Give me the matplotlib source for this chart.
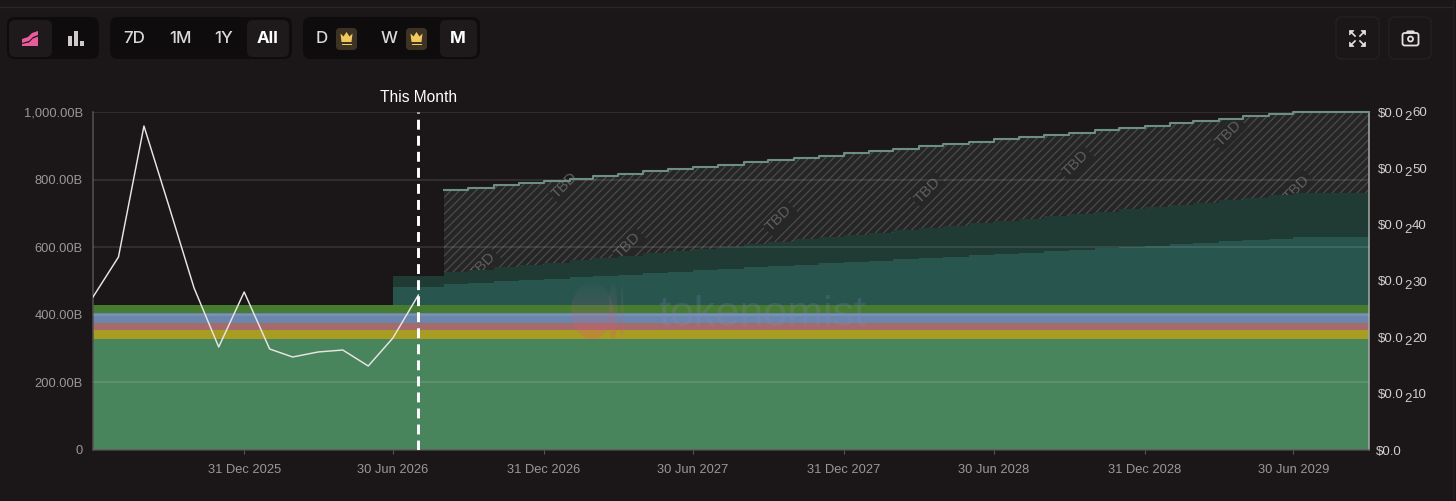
import numpy as np
import pandas as pd
import matplotlib
matplotlib.use("Agg")
import matplotlib.pyplot as plt
import matplotlib.dates as mdates
from matplotlib.patches import FancyBboxPatch, Ellipse, Polygon, Rectangle

plt.rcParams['font.family'] = ['Liberation Sans', 'DejaVu Sans']
plt.rcParams['hatch.linewidth'] = 0.9

# ---- data ----
months = pd.date_range('2025-06-30', periods=52, freq='ME')
base_layer = [328] * 52
yellow_layer = [27] * 52
red_layer = [21] * 52
blue_layer = [29] * 52
green_layer = [24] * 52

# cumulative upper edges of unlocking layers, from Jun 2026 on
teal_top = [482, 482, 491, 495, 499, 503, 507, 511, 515, 519, 524, 528, 532, 536, 540, 544, 548, 552, 556, 560,
            564, 568, 572, 576, 580, 584, 589, 593, 597, 601, 605, 609, 613, 617, 621, 625, 629, 629, 629, 629]
dark_top = [515, 515, 527, 534, 541, 548, 554, 561, 568, 575, 582, 589, 595, 602, 609, 616, 623, 630, 637, 643,
            650, 657, 664, 671, 678, 684, 691, 698, 705, 712, 719, 726, 732, 739, 746, 753, 760, 760, 760, 760]
# TBD allocation upper edge, from Aug 2026 on
tbd_top = [769, 776, 783, 790, 797, 803, 810, 817, 824, 830, 837, 844, 851, 858, 864, 871, 878, 885, 892,
           898, 905, 912, 919, 926, 932, 939, 946, 953, 960, 966, 973, 980, 987, 994, 1000, 1000, 1000, 1000]

price = [0.002716, 0.003426, 0.005751, 0.004349, 0.002876, 0.001828, 0.002805,
         0.001793, 0.001651, 0.001740, 0.001775, 0.001491, 0.001988, 0.002751]

left_ticks = [0, 200, 400, 600, 800, 1000]
left_labels = ['0', '200.00B', '400.00B', '600.00B', '800.00B', '1,000.00B']
right_ticks = [0, 0.001, 0.002, 0.003, 0.004, 0.005, 0.006]
right_digits = ['', '10', '20', '30', '40', '50', '60']
date_ticks = ['2025-12-31', '2026-06-30', '2026-12-31', '2027-06-30',
              '2027-12-31', '2028-06-30', '2028-12-31', '2029-06-30']
this_month = '2026-07-31'
range_buttons = ['7D', '1M', '1Y', 'All']

# ---- style ----
W, H = 1456, 501
BG = '#1b1718'
TICK = '#9c9698'
fig = plt.figure(figsize=(W / 100, H / 100), dpi=100, facecolor=BG)
ax = fig.add_axes([93 / W, 1 - 450 / H, (1369 - 93) / W, (450 - 112) / H], facecolor=BG)

cum = np.cumsum([base_layer, yellow_layer, red_layer, blue_layer, green_layer], axis=0)
layer_colors = ['#49855c', '#a89c22', '#a56b6b', '#6a86ac', '#477b2f']
bottom = np.zeros(52)
for top, c in zip(cum, layer_colors):
    ax.fill_between(months, bottom, top, step='post', color=c, lw=0, zorder=2)
    bottom = top

m2 = months[12:]
ax.fill_between(m2, cum[-1][12:], teal_top, step='post', color='#28564f', lw=0, zorder=2)
ax.fill_between(m2, teal_top, dark_top, step='post', color='#1f3b34', lw=0, zorder=2)

m3 = months[14:]
tbd_poly = ax.fill_between(m3, dark_top[2:], tbd_top, step='post', facecolor='#262626',
                           edgecolor='#4a4c4b', hatch='////', lw=0, zorder=1)
ax.step(m3[:], tbd_top, where='post', color='#6d8f7f', lw=1.5, zorder=3, clip_on=False)

# TBD marks, clipped to the hatched region
for px, py in [(483, 265), (565, 185), (628, 245), (779, 218),
               (928, 190), (1076, 163), (1229, 133), (1297, 188)]:
    t = ax.text(px / W, 1 - py / H, 'TBD', transform=fig.transFigure, rotation=45,
                ha='center', va='center', rotation_mode='anchor', fontsize=11, color='#5e5f5e', zorder=1.5,
                clip_on=True, bbox=dict(facecolor='#262626', edgecolor='none', pad=1.5))
    t.set_clip_path(tbd_poly.get_paths()[0], ax.transData)

ax.set_xlim(months[0], months[-1])
ax.set_ylim(0, 1000)
ax.set_yticks(left_ticks)
ax.set_yticklabels(left_labels)
ax.set_xticks(pd.to_datetime(date_ticks))
ax.set_xticklabels([pd.Timestamp(d).strftime('%d %b %Y') for d in date_ticks])
ax.tick_params(axis='y', length=0, pad=7.4, labelsize=9.3, labelcolor=TICK)
ax.tick_params(axis='x', length=3, width=0.8, color='#5a5556', pad=7.4, labelsize=9.3, labelcolor=TICK)
ax.grid(axis='y', color='white', alpha=0.13, lw=1.1, zorder=4)
ax.set_axisbelow(False)
ax.xaxis.grid(False)
for side, c in [('left', '#555052'), ('bottom', '#4a4547'), ('right', '#a8aaa8')]:
    ax.spines[side].set_color(c)
    ax.spines[side].set_linewidth(1.1)
ax.spines['top'].set_visible(False)

# price line
ax2 = ax.twinx()
ax2.set_ylim(0, 0.006)
ax2.set_yticks(right_ticks)
ax2.set_yticklabels([])
ax2.tick_params(axis='y', length=0)
for s in ax2.spines.values():
    s.set_visible(False)
ax2.plot(months[:len(price)], price, color='#e9e5e5', lw=1.05, zorder=5)

# right labels: price with a subscript zero count
tf = ax2.get_yaxis_transform()
for v, d in zip(right_ticks, right_digits):
    kw = dict(xycoords=tf, textcoords='offset pixels', ha='left', va='center_baseline',
              fontsize=9.5, color='#d2cece', annotation_clip=False)
    if not d:
        ax2.annotate('$0.0', (1, v), xytext=(7, 0), **kw)
    else:
        ax2.annotate('$0.0', (1, v), xytext=(9, 0), **kw)
        ax2.annotate('2', (1, v), xytext=(35, -3.5), **kw)
        ax2.annotate(d, (1, v), xytext=(43, 0), **kw)

# this-month marker
tm = mdates.date2num(pd.Timestamp(this_month))
ax2.axvline(tm, color='white', lw=2.1, dashes=(3.4, 2.1), zorder=6)
ax2.annotate('This Month', (tm, 1), xycoords=ax2.get_xaxis_transform(),
             xytext=(0, 15), textcoords='offset pixels', ha='center', va='center',
             fontsize=11.2, color='white', annotation_clip=False)

# ---- overlay in pixel coordinates: page chrome and watermark ----
ui = fig.add_axes([0, 0, 1, 1], facecolor='none', zorder=10)
ui.axis('off')


def box(x0, y0, x1, y1, fc, ec='none', r=6, lw=1.0):
    p = FancyBboxPatch((x0 + r, y0 + r), x1 - x0 - 2 * r, y1 - y0 - 2 * r,
                       boxstyle=f'round,pad={r},rounding_size={r}', fc=fc, ec=ec, lw=lw)
    ui.add_patch(p)
    return p


# watermark
grad = np.zeros((64, 2, 4))
grad[..., 0] = np.linspace(0.55, 0.95, 64)[:, None]
grad[..., 1] = np.linspace(0.45, 0.35, 64)[:, None]
grad[..., 2] = np.linspace(0.60, 0.40, 64)[:, None]
grad[..., 3] = np.linspace(0.05, 0.30, 64)[:, None]
for (cx, w) in [(592, 42), (613, 9), (622, 3)]:
    im = ui.imshow(grad, extent=(cx - w / 2, cx + w / 2, 339, 283), aspect='auto', zorder=1)
    e = Ellipse((cx, 311), w, 56, fc='none', ec='none')
    ui.add_patch(e)
    im.set_clip_path(e)
ui.text(762, 315, 'tokenomist', ha='center', va='center', fontsize=31,
        color='#8f86c8', alpha=0.2, zorder=1)

# top and right page borders
ui.plot([0, 1452], [6.5, 6.5], color='#2a2627', lw=1)
ui.plot([1452.5, 1452.5], [0, H], color='#231f20', lw=1)

# button groups
GROUP = '#0f0c0d'
SEL = '#1e1a1b'
box(7, 17, 99, 59, GROUP, r=8)
box(9, 20, 52, 57, SEL, r=6)
box(110, 17, 292, 59, GROUP, r=8)
box(247, 20, 289, 57, SEL, r=6)
box(303, 17, 480, 59, GROUP, r=8)
box(440, 20, 477, 57, SEL, r=6)

# area icon
ui.add_patch(Polygon([(22, 39), (28, 37), (32, 33), (38, 31), (38, 35), (33, 37), (29, 41), (22, 43)],
                     fc='#ea5b9d', ec='none'))
ui.add_patch(Polygon([(22, 44), (29, 42.5), (33, 38.5), (38, 36.5), (38, 46), (22, 46)], fc='#ea5b9d', ec='none'))
# bar icon
for x0, y0 in [(68, 36), (74, 31), (80, 41)]:
    ui.add_patch(Rectangle((x0, y0), 4, 46 - y0, fc='#cfcaca', ec='none'))

BTN = dict(family=['Inter', 'Liberation Sans'], ha='center', va='center', fontsize=12.2)
for x, s in zip([134, 180, 224, 268], range_buttons):
    sel = s == 'All'
    ui.text(x, 38.5, s, color='white' if sel else '#dcd8d8',
            fontweight='bold' if sel else 'medium', **BTN)
ui.text(322, 38.5, 'D', color='#dcd8d8', fontweight='medium', **BTN)
ui.text(389, 38.5, 'W', color='#dcd8d8', fontweight='medium', **BTN)
ui.text(458, 38.5, 'M', color='white', fontweight='bold', **BTN)

# crowns
for x0 in (336, 406):
    box(x0, 28, x0 + 21, 50, '#3d3325', r=4)
    ui.add_patch(Polygon([(x0 + 4.5, 33.5), (x0 + 7.5, 36.5), (x0 + 10.5, 32), (x0 + 13.5, 36.5),
                          (x0 + 16.5, 33.5), (x0 + 15.5, 42), (x0 + 5.5, 42)], fc='#f2c75c', ec='none'))
    ui.add_patch(Rectangle((x0 + 5.5, 43.5), 10, 1.6, fc='#f2c75c', ec='none'))

# right buttons
box(1336, 17, 1379, 59, 'none', ec='#252122', r=6)
box(1389, 17, 1431, 59, 'none', ec='#252122', r=6)
ICON = '#e4e0e0'
cx, cy = 1357.5, 38.5
for sx in (-1, 1):
    for sy in (-1, 1):
        ui.plot([cx + sx * 2.5, cx + sx * 7], [cy + sy * 2.5, cy + sy * 7], color=ICON, lw=1.2)
        ui.add_patch(Polygon([(cx + sx * 8, cy + sy * 8), (cx + sx * 3.5, cy + sy * 8),
                              (cx + sx * 8, cy + sy * 3.5)], fc=ICON, ec=ICON, lw=0.5))
box(1402.5, 33, 1418.5, 45.5, 'none', ec=ICON, r=2.2, lw=1.3)
ui.add_patch(Polygon([(1406, 33), (1407.5, 31), (1413.5, 31), (1415, 33)], fc=ICON, ec=ICON, lw=0.8))
ui.add_patch(Ellipse((1410.5, 39), 5, 5, fc='none', ec=ICON, lw=1.3))

ui.set_xlim(0, W)
ui.set_ylim(H, 0)

fig.savefig('out.png', dpi=100, facecolor=BG)
